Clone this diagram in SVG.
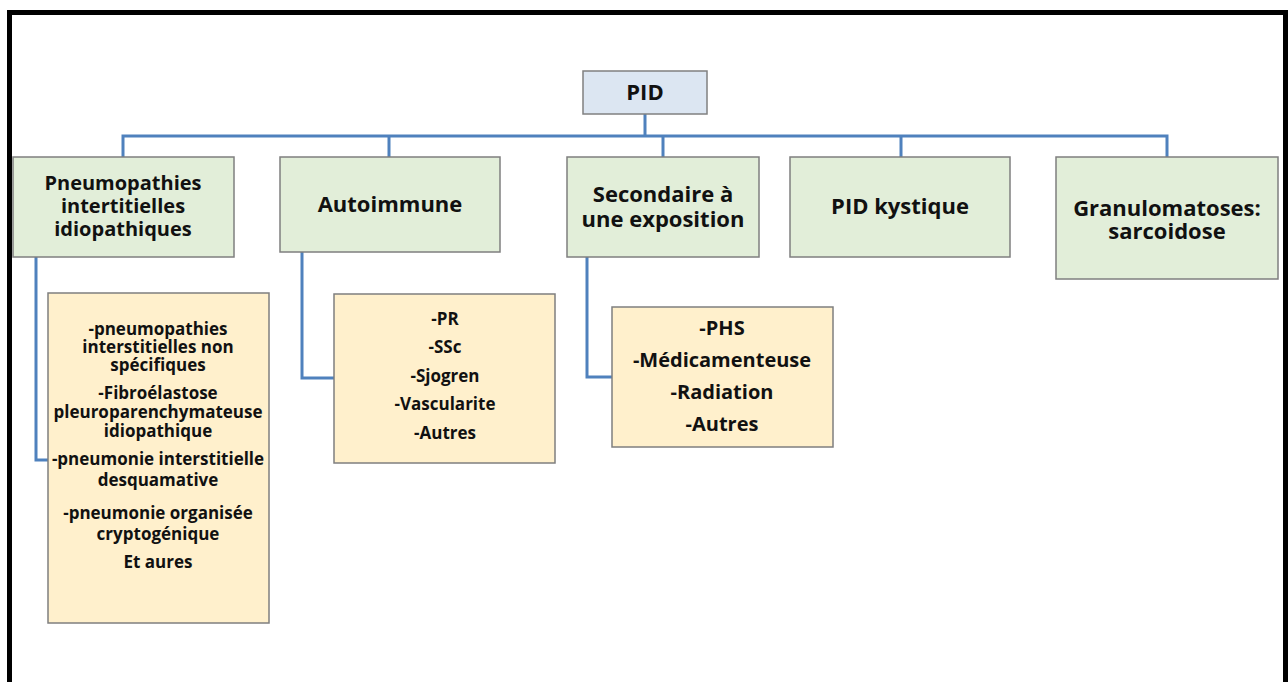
<svg xmlns="http://www.w3.org/2000/svg" width="1288" height="682" viewBox="0 0 1288 682">
<style>
.frame{fill:none;stroke:#000;stroke-width:5}
.root{fill:#dce6f2;stroke:#808080;stroke-width:1.5}
.cat{fill:#e2eed9;stroke:#7f7f7f;stroke-width:1.5}
.sub{fill:#fff0cc;stroke:#7f7f7f;stroke-width:1.5}
.conn{fill:none;stroke:#4f81bd;stroke-width:3}
text{font-family:"Open Sans","Liberation Sans",sans-serif;font-weight:bold;fill:#111;text-anchor:middle}
.h{font-size:22px}
.h1{font-size:20px}
.s{font-size:17px}
.a{font-size:17px}
.s2{font-size:20px}
</style>
<rect x="0" y="0" width="1288" height="682" fill="#fff"/>
<rect class="frame" x="9.5" y="12.5" width="1276" height="690"/>
<g id="connectors">
<path class="conn" d="M645 114V136M123 157V136H1167V157M389 136V157M663 136V157M901 136V157"/>
<path class="conn" d="M36 257V460H48"/>
<path class="conn" d="M302 252V378H334"/>
<path class="conn" d="M587 257V377H612"/>
</g>
<g id="pid">
<rect class="root" x="583" y="71" width="124" height="43"/>
<text class="h" x="645" y="100">PID</text>
</g>
<g id="pneumopathies">
<rect class="cat" x="13" y="157" width="221" height="100"/>
<text class="h1" x="123" y="190">Pneumopathies</text>
<text class="h1" x="123" y="213">intertitielles</text>
<text class="h1" x="123" y="236">idiopathiques</text>
</g>
<g id="autoimmune">
<rect class="cat" x="280" y="157" width="220" height="95"/>
<text class="h" x="390" y="212">Autoimmune</text>
</g>
<g id="secondaire">
<rect class="cat" x="567" y="157" width="192" height="100"/>
<text class="h" x="663" y="202">Secondaire à</text>
<text class="h" x="663" y="227">une exposition</text>
</g>
<g id="kystique">
<rect class="cat" x="790" y="157" width="220" height="100"/>
<text class="h" x="900" y="214">PID kystique</text>
</g>
<g id="granulomatoses">
<rect class="cat" x="1056" y="157" width="222" height="122"/>
<text class="h" x="1167" y="216">Granulomatoses:</text>
<text class="h" x="1167" y="239">sarcoidose</text>
</g>
<g id="pii-list">
<rect class="sub" x="48" y="293" width="221" height="330"/>
<text class="s" x="158" y="335">-pneumopathies</text>
<text class="s" x="158" y="353">interstitielles non</text>
<text class="s" x="158" y="371">spécifiques</text>
<text class="s" x="158" y="399">-Fibroélastose</text>
<text class="s" x="158" y="418">pleuroparenchymateuse</text>
<text class="s" x="158" y="437">idiopathique</text>
<text class="s" x="158" y="465">-pneumonie interstitielle</text>
<text class="s" x="158" y="486">desquamative</text>
<text class="s" x="158" y="519">-pneumonie organisée</text>
<text class="s" x="158" y="540">cryptogénique</text>
<text class="s" x="158" y="568">Et aures</text>
</g>
<g id="auto-list">
<rect class="sub" x="334" y="294" width="221" height="169"/>
<text class="a" x="445" y="325">-PR</text>
<text class="a" x="445" y="353">-SSc</text>
<text class="a" x="445" y="382">-Sjogren</text>
<text class="a" x="445" y="410">-Vascularite</text>
<text class="a" x="445" y="439">-Autres</text>
</g>
<g id="expo-list">
<rect class="sub" x="612" y="307" width="221" height="140"/>
<text class="s2" x="722" y="335">-PHS</text>
<text class="s2" x="722" y="367">-Médicamenteuse</text>
<text class="s2" x="722" y="399">-Radiation</text>
<text class="s2" x="722" y="431">-Autres</text>
</g>
</svg>
